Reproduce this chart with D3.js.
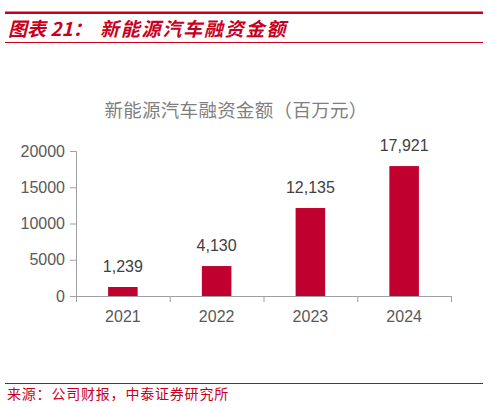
<!DOCTYPE html>
<html>
<head>
<meta charset="utf-8">
<script src="https://cdn.jsdelivr.net/npm/d3@7"></script>
<style>
  html, body { margin: 0; padding: 0; background: #fff; }
  svg { display: block; }
</style>
</head>
<body>
<div id="chart"></div>
<script>
// 新能源汽车融资金额（百万元）
const years = ["2021", "2022", "2023", "2024"];
const amounts = [1239, 4130, 12135, 17921];
const yTicks = [0, 5000, 10000, 15000, 20000];

const width = 488;
const height = 407;
const margin = { top: 151, left: 76, bottom: 111, right: 37 };
const iwidth = width - margin.left - margin.right;
const iheight = height - margin.top - margin.bottom;

const red = "#c8001e";
const barColor = "#c0002f";
const axisColor = "#a0a0a0";

const svg = d3.select("#chart").append("svg")
    .attr("width", width)
    .attr("height", height);

// header
svg.append("rect").attr("x", 5).attr("y", 11.5).attr("width", 478).attr("height", 2.5).attr("fill", red);
const head = svg.append("text")
    .attr("x", 8).attr("y", 36)
    .attr("fill", red)
    .style("font-family", "'Noto Sans CJK SC', sans-serif")
    .style("font-weight", "bold")
    .style("font-style", "italic")
    .style("font-size", "19px");
head.append("tspan").text("图表 21：");
head.append("tspan").attr("x", 100).style("letter-spacing", "1.8px").text("新能源汽车融资金额");
svg.append("rect").attr("x", 5).attr("y", 42).attr("width", 478).attr("height", 1).attr("fill", red);

// chart title
svg.append("text")
    .attr("x", 236).attr("y", 117)
    .attr("text-anchor", "middle")
    .attr("fill", "#7f7f7f")
    .style("font-family", "'Noto Sans CJK SC', sans-serif")
    .style("font-size", "18.5px")
    .style("letter-spacing", "0.3px")
    .text("新能源汽车融资金额（百万元）");

const g = svg.append("g").attr("transform", `translate(${margin.left},${margin.top})`);

const y = d3.scaleLinear()
    .domain([0, 20000])
    .range([iheight, 0]);

const x = d3.scaleBand()
    .domain(years)
    .range([0, iwidth])
    .paddingInner(0.685)
    .paddingOuter(0.3425);

// bars
g.selectAll("rect.bar").data(amounts).enter().append("rect")
    .attr("class", "bar")
    .attr("fill", barColor)
    .attr("x", (d, i) => x(years[i]))
    .attr("y", d => y(d))
    .attr("width", x.bandwidth())
    .attr("height", d => iheight - y(d));

// value labels
g.selectAll("text.val").data(amounts).enter().append("text")
    .attr("class", "val")
    .attr("x", (d, i) => x(years[i]) + x.bandwidth() / 2)
    .attr("y", d => y(d) - 15)
    .attr("text-anchor", "middle")
    .attr("fill", "#404040")
    .style("font-family", "'Liberation Sans', Arial, sans-serif")
    .style("font-size", "16px")
    .text(d => d3.format(",")(d));

// y axis
const yAxis = g.append("g")
    .call(d3.axisLeft(y).tickValues(yTicks).tickSize(6).tickPadding(5).tickFormat(d3.format("d")));
yAxis.select(".domain").attr("stroke", axisColor);
yAxis.selectAll(".tick line").attr("stroke", axisColor);
yAxis.selectAll(".tick text")
    .attr("fill", "#595959")
    .style("font-family", "'Liberation Sans', Arial, sans-serif")
    .style("font-size", "16px");

// x axis: ticks on category boundaries
const xb = d3.scaleBand().domain(years).range([0, iwidth]);
const xAxis = g.append("g")
    .attr("transform", `translate(0,${iheight})`)
    .call(d3.axisBottom(xb).tickSize(0).tickPadding(15));
xAxis.select(".domain").attr("stroke", axisColor);
xAxis.selectAll(".tick text")
    .attr("fill", "#595959")
    .style("font-family", "'Liberation Sans', Arial, sans-serif")
    .style("font-size", "16px");
xAxis.selectAll("line.sep")
    .data(years.concat(["end"]))
    .enter().append("line")
    .attr("class", "sep")
    .attr("x1", (d, i) => i * xb.step() + 0.5)
    .attr("x2", (d, i) => i * xb.step() + 0.5)
    .attr("y1", 0).attr("y2", 6)
    .attr("stroke", axisColor);

// footer
svg.append("rect").attr("x", 5).attr("y", 383).attr("width", 478).attr("height", 1).attr("fill", red);
svg.append("text")
    .attr("x", 7).attr("y", 399)
    .attr("fill", red)
    .style("font-family", "'Noto Sans CJK SC', sans-serif")
    .style("font-size", "14px")
    .style("letter-spacing", "0.8px")
    .text("来源：公司财报，中泰证券研究所");
</script>
</body>
</html>
